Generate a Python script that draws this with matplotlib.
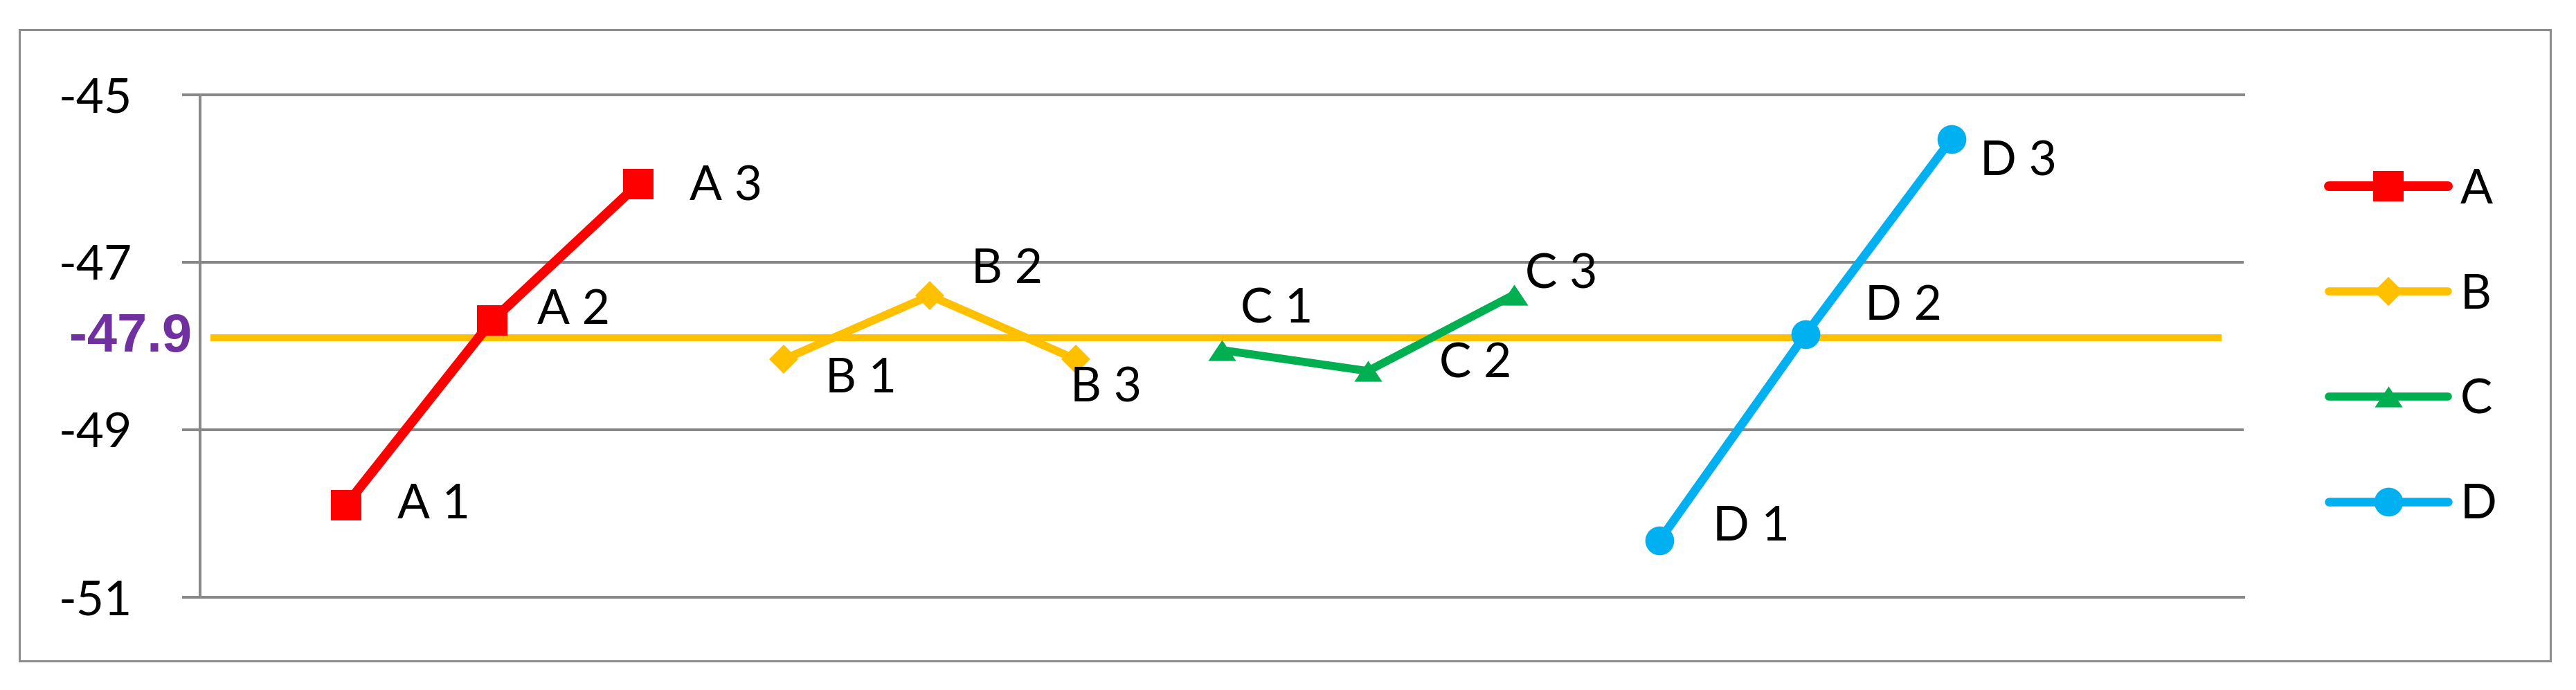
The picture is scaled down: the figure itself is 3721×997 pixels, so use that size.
import matplotlib
matplotlib.use('Agg')
import matplotlib.pyplot as plt
from matplotlib.patches import Rectangle

# data
series_names = ['A', 'B', 'C', 'D']
a_vals = [-49.90, -47.70, -46.07]
b_vals = [-48.16, -47.40, -48.16]
c_vals = [-48.05, -48.30, -47.39]
d_vals = [-50.32, -47.86, -45.53]
mean_value = -47.9
yticks = [-51, -49, -47, -45]

colors = ['#FF0000', '#FFC000', '#00B050', '#00B0F0']
tri = [(-1, -0.75), (1, -0.75), (0, 0.75)]
markers = ['s', 'D', tri, 'o']
msizes = [31, 21.4, 29, 30]
lwidths = [10, 8.4, 8.4, 9]
# label offsets in pixels (dx, dy) for each point
offsets = [[(74, 0), (65, 15), (74, -4)],
           [(60, -28), (60, 38), (-8, -42)],
           [(27, 59), (103, 10), (16, 29)],
           [(77, 19), (86, 40), (41, -33)]]

plt.rcParams['font.family'] = ['Lato', 'DejaVu Sans']

fig = plt.figure(figsize=(37.21, 9.97), dpi=100)
ax = fig.add_axes([289/3721, 1-862.9/997, (3240.8-289)/3721, (862.9-136.7)/997])

grid_c = '#888888'
all_vals = [a_vals, b_vals, c_vals, d_vals]
handles = []
for i, (name, vals) in enumerate(zip(series_names, all_vals)):
    xs = [3*i + k + 1 for k in range(len(vals))]
    h, = ax.plot(xs, vals, color=colors[i], marker=markers[i], markersize=msizes[i],
                 linewidth=lwidths[i], solid_capstyle='round', solid_joinstyle='round',
                 markeredgewidth=0, zorder=3, label=name, clip_on=False)
    handles.append(h)
    for k, (x, y) in enumerate(zip(xs, vals)):
        ax.annotate('%s %d' % (name, k+1), (x, y), xytext=offsets[i][k],
                    textcoords='offset pixels', ha='left', va='center',
                    fontsize=50, color='black', zorder=4)

ax.hlines(mean_value, 0.07, 13.85, color='#FFC000', linewidth=7.2, zorder=2)
ax.annotate('%.1f' % mean_value, (0, mean_value), xycoords=('axes fraction', 'data'),
            xytext=(-12, 0), textcoords='offset pixels', ha='right', va='center',
            fontsize=56, fontweight='bold', color='#7030A0',
            family=['Liberation Sans', 'DejaVu Sans'])

ax.set_xlim(0, 14)
ax.set_ylim(-51, -45)
ax.set_yticks(yticks)
ax.set_yticklabels([str(t) for t in yticks])
ax.set_xticks([])
ax.grid(axis='y', color=grid_c, linewidth=2.9, zorder=1)
ax.set_axisbelow(True)
ax.tick_params(axis='y', direction='out', length=18.7, width=2.9, color=grid_c,
               pad=52, labelsize=50)
for s in ['top', 'bottom', 'left']:
    ax.spines[s].set_color(grid_c)
    ax.spines[s].set_linewidth(2.9)
ax.spines['right'].set_visible(False)

fig.legend(handles=handles, loc='center left', bbox_to_anchor=(3364/3721, 1-502/997),
           frameon=False, fontsize=50, handlelength=2.48, handletextpad=0.25,
           labelspacing=1.28, borderpad=0, borderaxespad=0)

fig.patches.append(Rectangle((28/3721, 1-955/997), (3684-28)/3721, (955-42.6)/997,
                             transform=fig.transFigure, fill=False,
                             edgecolor='#8C8C8C', linewidth=2.2))

plt.savefig('out.png', dpi=100)
